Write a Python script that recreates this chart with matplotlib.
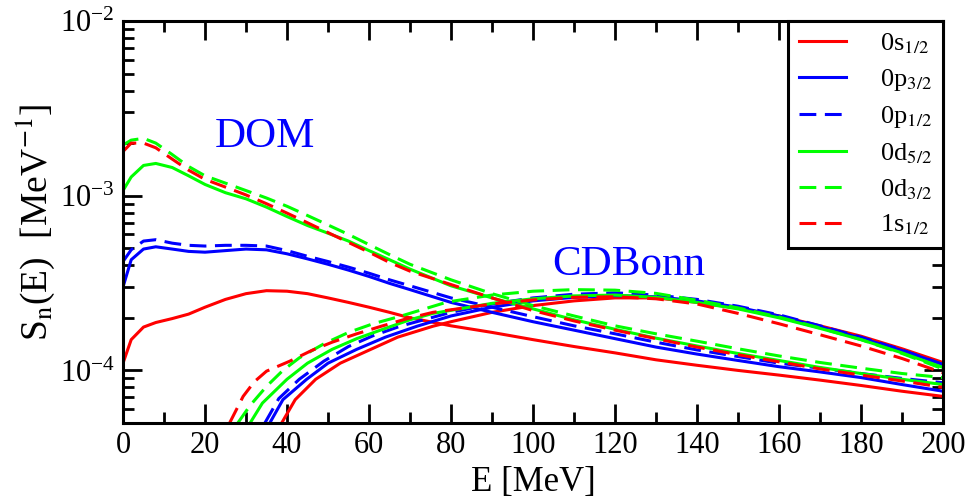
import matplotlib
matplotlib.use("Agg")
import matplotlib.pyplot as plt
from matplotlib.ticker import MultipleLocator, LogLocator, NullFormatter

plt.rcParams['font.family'] = ['Liberation Serif', 'DejaVu Serif']
plt.rcParams['mathtext.fontset'] = 'stix'

# DOM spectral functions (E in MeV, S in MeV^-1)
e_dom = [0, 2, 5, 8, 12, 16, 20, 25, 30, 35, 40, 45, 50, 55, 60, 65, 70,
         80, 90, 100, 110, 120, 130, 140, 150, 160, 170, 180, 190, 200]
dom_0s12 = [1.1e-4, 1.5e-4, 1.77e-4, 1.88e-4, 1.98e-4, 2.1e-4, 2.3e-4, 2.55e-4, 2.75e-4,
            2.86e-4, 2.84e-4, 2.75e-4, 2.6e-4, 2.45e-4, 2.3e-4, 2.15e-4, 2.0e-4,
            1.8e-4, 1.65e-4, 1.5e-4, 1.37e-4, 1.26e-4, 1.15e-4, 1.07e-4, 1.0e-4,
            0.94e-4, 0.88e-4, 0.82e-4, 0.76e-4, 0.71e-4]
dom_0p32 = [3.0e-4, 4.3e-4, 4.95e-4, 5.1e-4, 4.95e-4, 4.8e-4, 4.75e-4, 4.85e-4, 4.95e-4,
            4.9e-4, 4.65e-4, 4.35e-4, 4.05e-4, 3.75e-4, 3.45e-4, 3.15e-4, 2.9e-4,
            2.45e-4, 2.15e-4, 1.9e-4, 1.7e-4, 1.52e-4, 1.36e-4, 1.24e-4, 1.14e-4,
            1.05e-4, 0.98e-4, 0.91e-4, 0.83e-4, 0.76e-4]
dom_0p12 = [4.2e-4, 4.9e-4, 5.5e-4, 5.6e-4, 5.35e-4, 5.2e-4, 5.15e-4, 5.2e-4, 5.2e-4,
            5.15e-4, 4.85e-4, 4.5e-4, 4.2e-4, 3.9e-4, 3.6e-4, 3.3e-4, 3.05e-4,
            2.6e-4, 2.3e-4, 2.03e-4, 1.8e-4, 1.62e-4, 1.45e-4, 1.31e-4, 1.2e-4,
            1.1e-4, 1.03e-4, 0.96e-4, 0.9e-4, 0.85e-4]
dom_0d52 = [1.07e-3, 1.28e-3, 1.49e-3, 1.53e-3, 1.45e-3, 1.3e-3, 1.16e-3, 1.04e-3, 9.6e-4,
            8.6e-4, 7.6e-4, 6.75e-4, 6.1e-4, 5.5e-4, 4.85e-4, 4.3e-4, 3.8e-4,
            3.05e-4, 2.6e-4, 2.25e-4, 1.95e-4, 1.72e-4, 1.53e-4, 1.38e-4, 1.25e-4,
            1.14e-4, 1.04e-4, 0.96e-4, 0.89e-4, 0.83e-4]
dom_0d32 = [1.95e-3, 2.08e-3, 2.13e-3, 2.0e-3, 1.72e-3, 1.47e-3, 1.3e-3, 1.18e-3, 1.07e-3,
            9.7e-4, 8.7e-4, 7.7e-4, 6.8e-4, 6.0e-4, 5.25e-4, 4.6e-4, 4.05e-4,
            3.3e-4, 2.75e-4, 2.35e-4, 2.05e-4, 1.8e-4, 1.62e-4, 1.47e-4, 1.33e-4,
            1.21e-4, 1.11e-4, 1.03e-4, 0.96e-4, 0.91e-4]
dom_1s12 = [1.79e-3, 2.0e-3, 2.0e-3, 1.88e-3, 1.62e-3, 1.4e-3, 1.24e-3, 1.12e-3, 1.01e-3,
            9.0e-4, 7.95e-4, 7.0e-4, 6.15e-4, 5.4e-4, 4.75e-4, 4.15e-4, 3.7e-4,
            3.1e-4, 2.6e-4, 2.2e-4, 1.92e-4, 1.7e-4, 1.52e-4, 1.36e-4, 1.23e-4,
            1.12e-4, 1.02e-4, 0.94e-4, 0.87e-4, 0.80e-4]

# CDBonn spectral functions
e_cdb_0s12 = [38.7, 42, 47, 53, 59.5, 67, 75.6, 80, 90, 100, 110, 120, 130, 140, 150, 160, 170, 180, 190, 200]
cdb_0s12 = [5e-5, 6.8e-5, 8.9e-5, 1.1e-4, 1.29e-4, 1.55e-4, 1.79e-4, 1.9e-4, 2.15e-4, 2.35e-4,
            2.5e-4, 2.6e-4, 2.6e-4, 2.45e-4, 2.27e-4, 2.05e-4, 1.8e-4, 1.57e-4, 1.33e-4, 1.11e-4]
e_cdb_0p32 = [35.8, 39, 44.8, 50, 57, 64, 71.7, 80, 90, 100, 110, 120, 130, 140, 150, 160, 170, 180, 190, 200]
cdb_0p32 = [5e-5, 6.8e-5, 8.9e-5, 1.1e-4, 1.32e-4, 1.55e-4, 1.79e-4, 2.05e-4, 2.3e-4, 2.5e-4,
            2.62e-4, 2.68e-4, 2.64e-4, 2.5e-4, 2.3e-4, 2.05e-4, 1.78e-4, 1.53e-4, 1.3e-4, 1.08e-4]
e_cdb_0p12 = [34.6, 38, 43, 49, 55, 61, 67.6, 80, 90, 100, 110, 120, 130, 140, 150, 160, 170, 180, 190, 200]
cdb_0p12 = [5e-5, 6.9e-5, 8.9e-5, 1.13e-4, 1.37e-4, 1.58e-4, 1.79e-4, 2.15e-4, 2.4e-4, 2.6e-4,
            2.73e-4, 2.78e-4, 2.7e-4, 2.55e-4, 2.33e-4, 2.08e-4, 1.8e-4, 1.55e-4, 1.31e-4, 1.08e-4]
e_cdb_0d52 = [31, 34, 40, 45, 51, 57, 63.4, 70, 75.6, 90, 100, 110, 120, 130, 140, 150, 160, 170, 180, 190, 200]
cdb_0d52 = [5e-5, 6.5e-5, 8.9e-5, 1.1e-4, 1.32e-4, 1.52e-4, 1.72e-4, 1.95e-4, 2.12e-4, 2.42e-4,
            2.57e-4, 2.67e-4, 2.7e-4, 2.62e-4, 2.45e-4, 2.25e-4, 2.0e-4, 1.74e-4, 1.5e-4, 1.26e-4, 1.04e-4]
e_cdb_0d32 = [28, 31, 35, 39, 43, 49, 55, 61, 67.6, 79, 90, 100, 110, 120, 130, 140, 150, 160, 170, 180, 190, 200]
cdb_0d32 = [5e-5, 6.3e-5, 8.1e-5, 1.0e-4, 1.18e-4, 1.42e-4, 1.65e-4, 1.85e-4, 2.04e-4, 2.46e-4,
            2.7e-4, 2.84e-4, 2.9e-4, 2.88e-4, 2.76e-4, 2.52e-4, 2.28e-4, 2.02e-4, 1.75e-4, 1.5e-4, 1.25e-4, 1.02e-4]
e_cdb_1s12 = [26, 29.3, 32, 35, 40.7, 46, 51, 57, 63, 69, 75.6, 90, 100, 110, 120, 130, 140, 150, 160, 170, 180, 190, 200]
cdb_1s12 = [5e-5, 7.1e-5, 8.6e-5, 9.9e-5, 1.13e-4, 1.3e-4, 1.45e-4, 1.62e-4, 1.79e-4, 1.97e-4,
            2.15e-4, 2.4e-4, 2.53e-4, 2.62e-4, 2.64e-4, 2.57e-4, 2.4e-4, 2.12e-4, 1.85e-4, 1.6e-4, 1.38e-4, 1.17e-4, 0.97e-4]

labels = ['0s$_{1/2}$', '0p$_{3/2}$', '0p$_{1/2}$', '0d$_{5/2}$', '0d$_{3/2}$', '1s$_{1/2}$']
colors = ['#ff0000', '#0000ff', '#0000ff', '#00ff00', '#00ff00', '#ff0000']
dashed = [False, False, True, False, True, True]

dom_curves = [dom_0s12, dom_0p32, dom_0p12, dom_0d52, dom_0d32, dom_1s12]
cdb_curves = [(e_cdb_0s12, cdb_0s12), (e_cdb_0p32, cdb_0p32), (e_cdb_0p12, cdb_0p12),
              (e_cdb_0d52, cdb_0d52), (e_cdb_0d32, cdb_0d32), (e_cdb_1s12, cdb_1s12)]

fig = plt.figure(figsize=(9.76, 5.01), dpi=100)
ax = fig.add_axes([123 / 976, 78 / 501, 820 / 976, 402 / 501])

lw = 2.2
for i in range(6):
    ls = (0, (5.5, 2.8)) if dashed[i] else '-'
    ax.plot(e_dom, dom_curves[i], color=colors[i], ls=ls, lw=lw, label=labels[i])
    ex, sy = cdb_curves[i]
    ax.plot(ex, sy, color=colors[i], ls=ls, lw=lw)

ax.set_yscale('log')
ax.set_xlim(0, 200)
ax.set_ylim(5e-5, 1e-2)

ax.xaxis.set_major_locator(MultipleLocator(20))
ax.xaxis.set_minor_locator(MultipleLocator(10))
ax.yaxis.set_major_locator(LogLocator(base=10, numticks=10))
ax.yaxis.set_minor_locator(LogLocator(base=10, subs=range(2, 10), numticks=20))
ax.yaxis.set_minor_formatter(NullFormatter())

ax.tick_params(which='both', direction='in', top=True, right=True, width=2)
ax.tick_params(which='major', length=14, labelsize=22, pad=6)
ax.tick_params(which='minor', length=8)
for sp in ax.spines.values():
    sp.set_linewidth(2.2)

ax.set_xlabel('E [MeV]', fontsize=25, labelpad=4)
ax.set_ylabel('S$_\\mathrm{n}$(E)  [MeV$^{-1}$]', fontsize=27, labelpad=2)

ax.text(34.6, 1.9e-3, 'DOM', color='#0000ff', fontsize=31, ha='center', va='baseline')
ax.text(123.4, 3.5e-4, 'CDBonn', color='#0000ff', fontsize=31, ha='center', va='baseline')

leg = ax.legend(loc='upper right', fontsize=19, frameon=True, fancybox=False,
                edgecolor='black', framealpha=1, handlelength=1.8, handletextpad=1.3,
                labelspacing=0.42, borderpad=0.4, borderaxespad=0.0)
leg.get_frame().set_linewidth(2.2)

fig.savefig('out.png', dpi=100)
